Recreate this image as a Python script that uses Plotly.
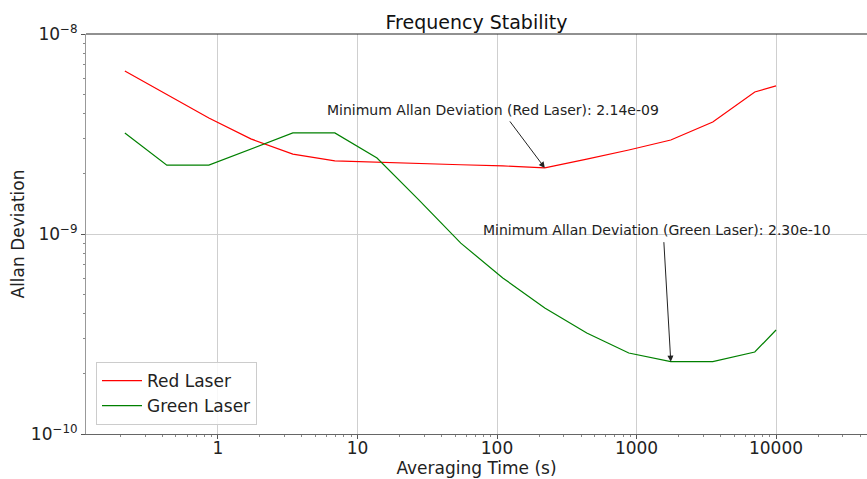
import plotly.graph_objects as go
import math

# Averaging times (s)
tau = [0.215, 0.43, 0.86, 1.72, 3.44, 6.88, 13.8, 27.5, 55, 110, 220, 440,
       880, 1760, 3520, 7040, 10000]

red_adev = [6.53e-9, 4.96e-9, 3.80e-9, 2.99e-9, 2.51e-9, 2.32e-9, 2.28e-9,
            2.24e-9, 2.22e-9, 2.19e-9, 2.14e-9, 2.37e-9, 2.63e-9, 2.95e-9,
            3.63e-9, 5.13e-9, 5.50e-9]

green_adev = [3.20e-9, 2.21e-9, 2.21e-9, 2.66e-9, 3.20e-9, 3.20e-9, 2.40e-9,
              1.48e-9, 9.0e-10, 6.03e-10, 4.27e-10, 3.20e-10, 2.54e-10,
              2.30e-10, 2.30e-10, 2.57e-10, 3.31e-10]

x_tickvals = [1, 10, 100, 1000, 10000]
x_ticktext = ["1", "10", "100", "1000", "10000"]
y_tickvals = [1e-10, 1e-9, 1e-8]
y_ticktext = ["10<sup>−10</sup>", "10<sup>−9</sup>", "10<sup>−8</sup>"]

FONT = "DejaVu Sans"

fig = go.Figure()
fig.add_trace(go.Scatter(x=tau, y=red_adev, mode="lines", name="Red Laser",
                         line=dict(color="#ff0000", width=1.2)))
fig.add_trace(go.Scatter(x=tau, y=green_adev, mode="lines", name="Green Laser",
                         line=dict(color="#008000", width=1.2)))

# minima annotations
ri = red_adev.index(min(red_adev))
gi = green_adev.index(min(green_adev))
for i, vals, label, tail, txt_shift in [
    (ri, red_adev, "Red Laser", (-36, -48), (-220, 58)),
    (gi, green_adev, "Green Laser", (-7, -121), (-190, 132)),
]:
    xm = math.log10(tau[i])
    ym = math.log10(vals[i])
    fig.add_annotation(x=xm, y=ym, xref="x", yref="y", text="", showarrow=True,
                       arrowhead=2, arrowsize=1.2, arrowwidth=1, arrowcolor="#222",
                       ax=tail[0], ay=tail[1], axref="pixel", ayref="pixel")
    fig.add_annotation(x=xm, y=ym, xref="x", yref="y",
                       text=f"Minimum Allan Deviation ({label}): {vals[i]:.2e}",
                       showarrow=False, xanchor="left", yanchor="middle",
                       xshift=txt_shift[0], yshift=txt_shift[1],
                       font=dict(family=FONT, size=14, color="#222"))

# top spine
fig.add_shape(type="line", xref="paper", yref="paper", x0=0, x1=1, y0=1, y1=1,
              line=dict(color="#222", width=1))

fig.update_layout(
    width=867, height=479,
    margin=dict(l=86, r=0, t=34, b=45),
    paper_bgcolor="white", plot_bgcolor="white",
    font=dict(family=FONT, size=17, color="#222"),
    title=dict(text="Frequency Stability", x=0.5, xref="paper", xanchor="center",
               y=1 - 22 / 479, yref="container", yanchor="middle",
               font=dict(family=FONT, size=19, color="#111")),
    showlegend=True,
    legend=dict(x=0.0128, y=0.0225, xanchor="left", yanchor="bottom",
                bgcolor="rgba(255,255,255,0.85)", bordercolor="#cccccc", borderwidth=1,
                font=dict(family=FONT, size=17, color="#222"),
                tracegroupgap=0, itemwidth=40),
)
fig.update_xaxes(type="log", range=[-0.946, 4.652],
                 tickvals=x_tickvals, ticktext=x_ticktext,
                 ticks="outside", ticklen=4, tickcolor="#555",
                 ticklabelstandoff=-5,
                 showgrid=True, gridcolor="#cfcfcf", gridwidth=1,
                 showline=True, linecolor="#666", linewidth=1, mirror=False,
                 zeroline=False,
                 minor=dict(ticks="outside", ticklen=2, tickcolor="#888",
                            dtick="D1", showgrid=False),
                 title=dict(text="Averaging Time (s)", standoff=4,
                            font=dict(family=FONT, size=17)),
                 automargin=False)
fig.update_yaxes(type="log", range=[-10, -8],
                 tickvals=y_tickvals, ticktext=y_ticktext,
                 ticks="outside", ticklen=4, tickcolor="#555",
                 showgrid=True, gridcolor="#cfcfcf", gridwidth=1,
                 showline=True, linecolor="#999", linewidth=1, mirror=False,
                 zeroline=False,
                 minor=dict(ticks="outside", ticklen=2, tickcolor="#888",
                            dtick="D1", showgrid=False),
                 title=dict(text="Allan Deviation", standoff=1,
                            font=dict(family=FONT, size=17)),
                 automargin=False)

fig.write_html("out.html")
